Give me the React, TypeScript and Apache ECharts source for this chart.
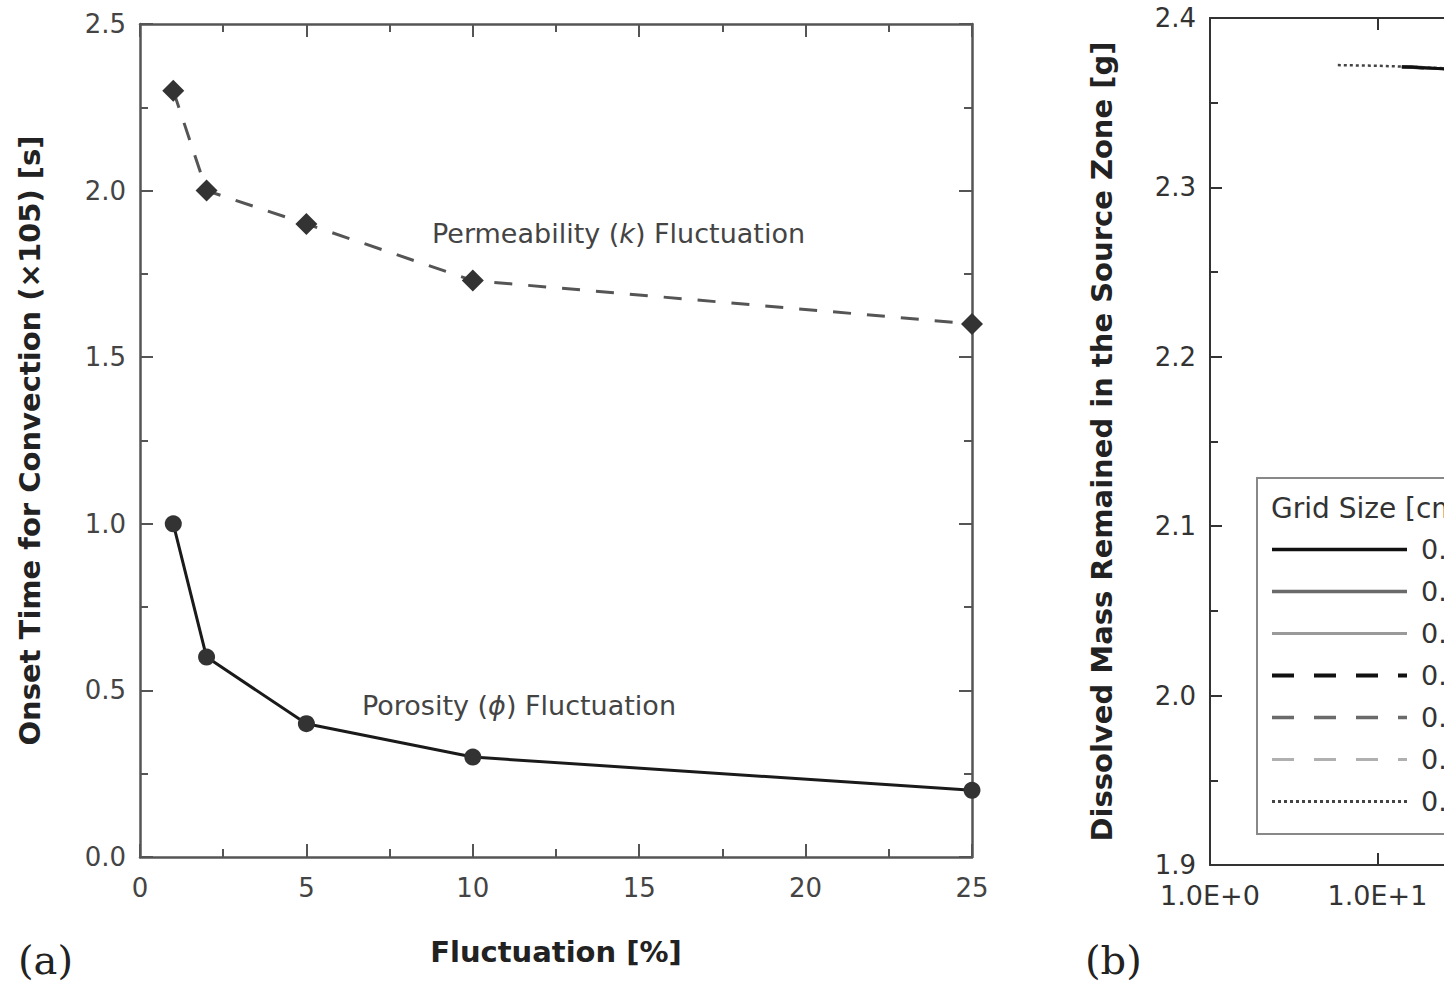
import React, { useEffect, useRef } from "react";
import * as echarts from "echarts";

// ---------- Panel (a) data ----------
const fluctuation = [1, 2, 5, 10, 25];
const permeabilityOnset = [2.3, 2.0, 1.9, 1.73, 1.6];
const porosityOnset = [1.0, 0.6, 0.4, 0.3, 0.2];

// ---------- Panel (b) data ----------
const gridSizes = ["0.10", "0.20", "0.25", "0.33", "0.40", "0.50", "0.67"];
const coarseTime = [14, 20, 40];
const coarseMass = [2.3712, 2.3705, 2.369];
const fineTime = [5.8, 10, 20, 40];
const fineMass = [2.3722, 2.3718, 2.3708, 2.3692];

const FONT = "DejaVu Sans";
const AXIS_A = "#555";
const AXIS_B = "#333";

const lineStylesB: any[] = [
  { color: "#111", width: 3.5, type: "solid" },
  { color: "#6a6a6a", width: 3.5, type: "solid" },
  { color: "#9a9a9a", width: 3, type: "solid" },
  { color: "#111", width: 4, type: [22, 20] },
  { color: "#6a6a6a", width: 3.5, type: [22, 20] },
  { color: "#b0b0b0", width: 3, type: [22, 20] },
  { color: "#444", width: 3, type: [3, 3] },
];

function pairs(xs: number[], ys: number[]) {
  return xs.map((x, i) => [x, ys[i]]);
}

export default function App() {
  const ref = useRef<HTMLDivElement>(null);

  useEffect(() => {
    if (!ref.current) return;
    const chart = echarts.init(ref.current, null, { renderer: "svg" });

    const axisA = (extra: any) => ({
      gridIndex: 0,
      axisLine: { show: true, onZero: false, lineStyle: { color: AXIS_A, width: 2.5 } },
      axisTick: { show: true, inside: true, length: 13, lineStyle: { color: AXIS_A, width: 2 } },
      minorTick: { show: true, splitNumber: 2, length: 8, lineStyle: { color: AXIS_A, width: 2 } },
      splitLine: { show: false },
      ...extra,
    });

    const axisB = (extra: any) => ({
      gridIndex: 1,
      axisLine: { show: true, onZero: false, lineStyle: { color: AXIS_B, width: 2 } },
      axisTick: { show: true, inside: true, length: 12, lineStyle: { color: AXIS_B, width: 2 } },
      splitLine: { show: false },
      ...extra,
    });

    const bSeries = gridSizes.map((g, i) => ({
      name: g,
      type: "line",
      xAxisIndex: 2,
      yAxisIndex: 2,
      symbol: "none",
      showSymbol: false,
      lineStyle: { ...lineStylesB[i], width: lineStylesB[i].width - 0.5 },
      itemStyle: { color: lineStylesB[i].color },
      data: i === 6 ? pairs(fineTime, fineMass) : pairs(coarseTime, coarseMass),
      z: 3 + (6 - i),
    }));

    const option: any = {
      animation: false,
      backgroundColor: "#fff",
      textStyle: { fontFamily: FONT },
      grid: [
        { left: 140, top: 24, width: 832, height: 833 },
        { left: 1210, top: 18, width: 850, height: 847 },
      ],
      xAxis: [
        axisA({
          type: "value",
          position: "bottom",
          min: 0,
          max: 25,
          interval: 5,
          axisLabel: { fontSize: 26, color: "#444", margin: 18, fontFamily: FONT },
          name: "Fluctuation [%]",
          nameLocation: "middle",
          nameGap: 80,
          nameTextStyle: { fontSize: 29, fontWeight: "bold", color: "#222", fontFamily: FONT },
        }),
        axisA({
          type: "value",
          position: "top",
          min: 0,
          max: 25,
          interval: 5,
          axisLabel: { show: false },
        }),
        axisB({
          type: "log",
          logBase: 10,
          position: "bottom",
          min: 1,
          max: 100000,
          axisLabel: {
            fontSize: 27,
            color: "#333",
            margin: 17,
            fontFamily: FONT,
            formatter: (v: number) => "1.0E+" + Math.round(Math.log10(v)),
          },
        }),
        axisB({
          type: "log",
          logBase: 10,
          position: "top",
          min: 1,
          max: 100000,
          axisLabel: { show: false },
        }),
      ],
      yAxis: [
        axisA({
          type: "value",
          position: "left",
          min: 0,
          max: 2.5,
          interval: 0.5,
          axisLabel: {
            fontSize: 26,
            color: "#444",
            margin: 14,
            fontFamily: FONT,
            formatter: (v: number) => v.toFixed(1),
          },
          name: "Onset Time for Convection (×105) [s]",
          nameLocation: "middle",
          nameGap: 96,
          nameTextStyle: { fontSize: 29, fontWeight: "bold", color: "#222", fontFamily: FONT },
        }),
        axisA({
          type: "value",
          position: "right",
          min: 0,
          max: 2.5,
          interval: 0.5,
          axisLabel: { show: false },
        }),
        axisB({
          type: "value",
          position: "left",
          min: 1.9,
          max: 2.4,
          interval: 0.1,
          minorTick: { show: true, splitNumber: 2, length: 8, lineStyle: { color: AXIS_B, width: 2 } },
          axisLabel: {
            fontSize: 26,
            color: "#333",
            margin: 14,
            fontFamily: FONT,
            formatter: (v: number) => v.toFixed(1),
          },
          name: "Dissolved Mass Remained in the Source Zone [g]",
          nameLocation: "middle",
          nameGap: 94,
          nameTextStyle: { fontSize: 29, fontWeight: "bold", color: "#222", fontFamily: FONT },
        }),
      ],
      legend: {
        orient: "vertical",
        left: 1265,
        top: 531,
        itemWidth: 135,
        itemHeight: 20,
        itemGap: 15,
        itemStyle: { opacity: 0 },
        textStyle: { fontSize: 27, color: "#333", fontFamily: FONT, padding: [0, 0, 0, 9] },
        data: gridSizes.map((g, i) => ({
          name: g,
          lineStyle: {
            color: lineStylesB[i].color,
            width: lineStylesB[i].width,
            type: lineStylesB[i].type,
          },
        })),
      },
      graphic: [
        {
          type: "rect",
          z: 1,
          shape: { x: 1257, y: 478, width: 400, height: 356 },
          style: { fill: "#fff", stroke: "#888", lineWidth: 2 },
        },
        {
          type: "text",
          z: 5,
          x: 1271,
          y: 508,
          style: {
            text: "Grid Size [cm]",
            fontSize: 28,
            fontFamily: FONT,
            fill: "#333",
            verticalAlign: "middle",
          },
        },
        {
          type: "text",
          z: 5,
          x: 432,
          y: 233,
          style: {
            text: "Permeability ({i|k}) Fluctuation",
            fontSize: 27,
            fontFamily: FONT,
            fill: "#444",
            verticalAlign: "middle",
            rich: { i: { fontStyle: "italic", fontSize: 27, fontFamily: FONT, fill: "#444" } },
          },
        },
        {
          type: "text",
          z: 5,
          x: 362,
          y: 705,
          style: {
            text: "Porosity ({i|ϕ}) Fluctuation",
            fontSize: 27,
            fontFamily: FONT,
            fill: "#444",
            verticalAlign: "middle",
            rich: { i: { fontStyle: "italic", fontSize: 27, fontFamily: FONT, fill: "#444" } },
          },
        },
        {
          type: "text",
          x: 18,
          y: 960,
          style: {
            text: "(a)",
            fontSize: 40,
            fontFamily: "DejaVu Serif",
            fill: "#222",
            verticalAlign: "middle",
          },
        },
        {
          type: "text",
          x: 1085,
          y: 960,
          style: {
            text: "(b)",
            fontSize: 40,
            fontFamily: "DejaVu Serif",
            fill: "#222",
            verticalAlign: "middle",
          },
        },
      ],
      series: [
        {
          name: "Permeability (k) Fluctuation",
          type: "line",
          xAxisIndex: 0,
          yAxisIndex: 0,
          symbol: "diamond",
          symbolSize: 22,
          lineStyle: { color: "#555", width: 3, type: [18, 16] },
          itemStyle: { color: "#333" },
          data: pairs(fluctuation, permeabilityOnset),
        },
        {
          name: "Porosity (ϕ) Fluctuation",
          type: "line",
          xAxisIndex: 0,
          yAxisIndex: 0,
          symbol: "circle",
          symbolSize: 17,
          lineStyle: { color: "#1a1a1a", width: 3 },
          itemStyle: { color: "#333" },
          data: pairs(fluctuation, porosityOnset),
        },
        ...bSeries,
      ],
    };

    chart.setOption(option);
    return () => chart.dispose();
  }, []);

  return (
    <div
      ref={ref}
      style={{ position: "fixed", left: 0, top: 0, width: 2100, height: 987, background: "#fff" }}
    />
  );
}
